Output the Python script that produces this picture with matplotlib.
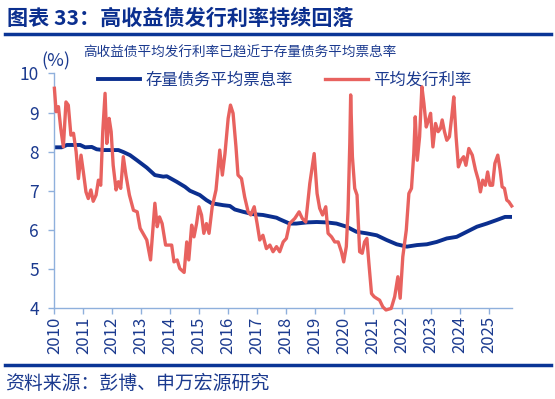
import matplotlib
matplotlib.use("Agg")
import matplotlib.pyplot as plt

plt.rcParams['font.family'] = ['Noto Sans CJK SC', 'DejaVu Sans']

# 存量债务平均票息率 (年份小数, %)
stock_x = [2010.0, 2010.25, 2010.43, 2010.89, 2011.06, 2011.29, 2011.46, 2011.69, 2012.21,
           2012.38, 2012.61, 2012.85, 2013.19, 2013.47, 2013.76, 2013.88, 2014.22, 2014.51,
           2014.68, 2015.02, 2015.25, 2015.43, 2015.83, 2016.06, 2016.23, 2016.52, 2016.86,
           2017.2, 2017.67, 2017.78, 2018.12, 2018.35, 2018.72, 2019.06, 2019.4, 2019.74,
           2020.09, 2020.43, 2020.78, 2021.13, 2021.47, 2021.82, 2022.17, 2022.52, 2022.86,
           2023.2, 2023.55, 2023.89, 2024.24, 2024.59, 2024.93, 2025.27, 2025.56, 2025.81]
stock_y = [8.11, 8.11, 8.17, 8.17, 8.11, 8.12, 8.06, 8.04, 8.04,
           7.99, 7.91, 7.78, 7.59, 7.40, 7.36, 7.37, 7.23, 7.10,
           7.00, 6.89, 6.76, 6.68, 6.63, 6.61, 6.52, 6.46, 6.40,
           6.38, 6.31, 6.27, 6.16, 6.16, 6.19, 6.20, 6.19, 6.16,
           6.08, 5.95, 5.91, 5.86, 5.74, 5.63, 5.57, 5.61, 5.63,
           5.69, 5.78, 5.82, 5.95, 6.08, 6.16, 6.25, 6.33, 6.33]

# 平均发行利率
issue_x = [2010.0, 2010.06, 2010.14, 2010.22, 2010.31, 2010.40, 2010.48, 2010.57, 2010.66,
           2010.75, 2010.83, 2010.92, 2011.0, 2011.09, 2011.17, 2011.26, 2011.34, 2011.44,
           2011.52, 2011.6, 2011.67, 2011.75, 2011.81, 2011.89, 2011.96, 2012.03, 2012.13,
           2012.21, 2012.29, 2012.38, 2012.47, 2012.59, 2012.73, 2012.86, 2012.96, 2013.19,
           2013.32, 2013.47, 2013.55, 2013.63, 2013.72, 2013.84, 2014.05, 2014.13, 2014.24,
           2014.33, 2014.48, 2014.57, 2014.64, 2014.74, 2014.82, 2014.91, 2014.99, 2015.08,
           2015.16, 2015.25, 2015.34, 2015.45, 2015.58, 2015.71, 2015.8, 2015.89, 2016.0,
           2016.08, 2016.17, 2016.27, 2016.34, 2016.46, 2016.57, 2016.69, 2016.78, 2016.9,
           2017.0, 2017.09, 2017.2, 2017.32, 2017.44, 2017.55, 2017.67, 2017.78, 2017.9,
           2018.01, 2018.12, 2018.3, 2018.45, 2018.56, 2018.68, 2018.82, 2018.97, 2019.07,
           2019.16, 2019.26, 2019.37, 2019.45, 2019.57, 2019.68, 2019.8, 2019.91, 2019.99,
           2020.08, 2020.14, 2020.2, 2020.23, 2020.29, 2020.37, 2020.45, 2020.54, 2020.63,
           2020.71, 2020.79, 2020.86, 2020.95, 2021.04, 2021.12, 2021.23, 2021.34, 2021.45,
           2021.63, 2021.75, 2021.86, 2021.94, 2022.03, 2022.15, 2022.24, 2022.33, 2022.41,
           2022.46, 2022.53, 2022.61, 2022.69, 2022.76, 2022.84, 2022.92, 2022.99, 2023.07,
           2023.16, 2023.25, 2023.33, 2023.39, 2023.47, 2023.55, 2023.64, 2023.72, 2023.79,
           2023.87, 2023.95, 2024.04, 2024.13, 2024.21, 2024.31, 2024.43, 2024.54, 2024.64,
           2024.71, 2024.79, 2024.88, 2024.96, 2025.04, 2025.13, 2025.21, 2025.31, 2025.39,
           2025.46, 2025.54, 2025.62, 2025.69, 2025.79]
issue_y = [9.62, 9.02, 9.15, 8.59, 8.12, 9.27, 9.19, 8.42, 8.47,
           8.00, 7.31, 7.91, 7.48, 6.97, 6.80, 7.02, 6.73, 6.89,
           7.27, 7.14, 8.51, 9.49, 8.21, 8.85, 8.51, 7.65, 7.02,
           7.23, 7.06, 7.87, 7.40, 6.89, 6.50, 6.46, 6.04, 5.74,
           5.23, 6.68, 6.08, 6.33, 6.16, 5.61, 5.61, 5.18, 5.23,
           5.01, 4.91, 5.69, 5.23, 6.12, 5.82, 6.16, 6.59, 6.38,
           5.91, 6.16, 5.91, 6.59, 7.02, 8.04, 7.40, 7.95, 8.85,
           9.19, 8.98, 8.12, 7.40, 7.31, 6.84, 6.46, 6.38, 6.59,
           6.16, 5.74, 5.86, 5.52, 5.61, 5.44, 5.57, 5.44, 5.69,
           5.78, 6.16, 6.29, 6.46, 6.29, 6.20, 7.19, 7.95, 6.93,
           6.55, 6.38, 6.59, 5.91, 5.82, 5.69, 5.69, 5.44, 5.18,
           5.57, 6.50, 8.21, 9.45, 7.87, 7.06, 6.89, 5.44, 5.40,
           5.69, 5.78, 5.14, 4.37, 4.29, 4.25, 4.20, 4.03, 3.95,
           3.99, 4.29, 4.80, 4.25, 5.31, 5.99, 6.93, 7.06, 7.95,
           8.89, 7.78, 8.38, 9.66, 9.23, 8.63, 8.81, 8.98, 8.12,
           8.72, 8.51, 8.59, 8.81, 8.51, 8.29, 8.38, 8.89, 9.40,
           8.38, 7.61, 7.78, 7.87, 7.65, 8.08, 7.91, 7.53, 7.27,
           6.97, 7.27, 7.14, 7.48, 7.14, 7.14, 7.70, 7.91, 7.53,
           7.10, 7.06, 6.76, 6.72, 6.61]

years = list(range(2010, 2026))

navy = '#0b2f8f'
red = '#e8625f'
text_blue = '#1b3a8f'
spine_blue = '#8fb0dc'

fig = plt.figure(figsize=(5.55, 3.99), dpi=100)

# 标题和分隔线
fig.text(0.012, 0.955, '图表 33：高收益债发行利率持续回落', fontsize=15.2, fontweight='bold',
         color=navy, va='center', ha='left')
fig.add_artist(plt.Line2D([0.009, 0.993], [0.914, 0.914], color='#0a3596', lw=2.5))
fig.add_artist(plt.Line2D([0.009, 0.993], [0.085, 0.085], color='#0a3596', lw=2.5))
fig.text(0.009, 0.04, '资料来源：彭博、申万宏源研究', fontsize=13.6, color=text_blue,
         va='center', ha='left')

ax = fig.add_axes([0.098, 0.228, 0.825, 0.588])
ax.plot(stock_x, stock_y, color=navy, lw=2.8, label='存量债务平均票息率', zorder=2)
ax.plot(issue_x, issue_y, color=red, lw=2.4, label='平均发行利率', zorder=3, clip_on=False)

ax.set_xlim(2010, 2025.81)
ax.set_ylim(4, 10)
ax.set_xticks(years)
ax.set_xticklabels([str(y) for y in years], rotation=90)
ax.set_yticks(range(4, 11))

for s in ['top', 'right']:
    ax.spines[s].set_visible(False)
for s in ['left', 'bottom']:
    ax.spines[s].set_color(spine_blue)
    ax.spines[s].set_linewidth(1.0)
ax.tick_params(axis='both', colors=spine_blue, labelcolor=text_blue, labelsize=12.5,
               length=4, width=1.0, direction='out')
ax.tick_params(axis='y', pad=7)
ax.tick_params(axis='x', pad=2, labelsize=12)

ax.text(-0.028, 1.05, '(%)', transform=ax.transAxes, fontsize=13, color=text_blue,
        ha='left', va='center')
ax.text(0.064, 1.087, '高收益债平均发行利率已趋近于存量债务平均票息率', transform=ax.transAxes,
        fontsize=9.8, color=text_blue, ha='left', va='center')

leg = ax.legend(loc='upper left', bbox_to_anchor=(0.08, 1.035), ncol=2, frameon=False,
                fontsize=11.8, handlelength=2.6, handletextpad=0.3, columnspacing=2.0,
                borderaxespad=0)
for t in leg.get_texts():
    t.set_color(text_blue)

fig.savefig('out.png', dpi=100)
